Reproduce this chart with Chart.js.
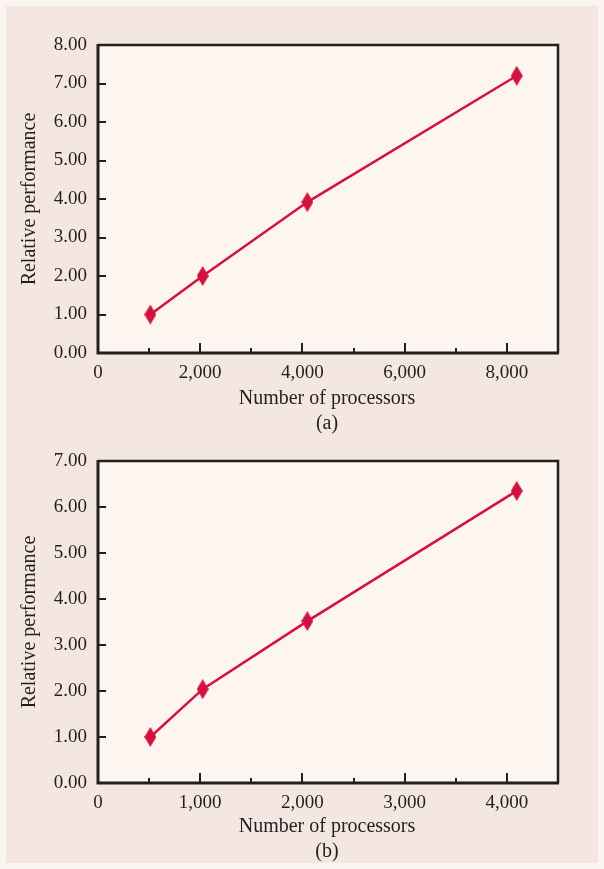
<!DOCTYPE html>
<html>
<head>
<meta charset="utf-8">
<script src="https://cdn.jsdelivr.net/npm/chart.js@4/dist/chart.umd.min.js"></script>
<style>
  html, body { margin: 0; padding: 0; background: #fbf5f2; }
  #page { position: relative; width: 604px; height: 869px; overflow: hidden; }
  #panel { position: absolute; left: 6px; top: 6px; width: 592px; height: 857px; background: #f4e6e0; }
  canvas { position: absolute; left: 0; }
</style>
</head>
<body>
<div id="page">
  <div id="panel"></div>
  <canvas id="c1" width="604" height="435" style="top:0px"></canvas>
  <canvas id="c2" width="604" height="434" style="top:435px"></canvas>
</div>
<script>
// ---- data ----
const topProcessors = [1024, 2048, 4096, 8192];
const topPerformance = [1.0, 2.0, 3.92, 7.2];
const bottomProcessors = [512, 1024, 2048, 4096];
const bottomPerformance = [1.0, 2.04, 3.52, 6.35];

const topXTicks = [0, 2000, 4000, 6000, 8000];
const topYTicks = [0, 1, 2, 3, 4, 5, 6, 7, 8];
const bottomXTicks = [0, 1000, 2000, 3000, 4000];
const bottomYTicks = [0, 1, 2, 3, 4, 5, 6, 7];

const topXMax = 9000, topXMinor = 1000;
const bottomXMax = 4500, bottomXMinor = 500;

const xTitle = 'Number of processors';
const yTitle = 'Relative performance';
const captions = ['(a)', '(b)'];

// ---- style ----
const RED = '#d2123f';
const INK = '#231f20';
const PLOT_BG = '#fdf5f0';
const FONT = '"Liberation Serif", "Times New Roman", serif';

function diamond(w, h) {
  const c = document.createElement('canvas');
  c.width = w; c.height = h;
  const g = c.getContext('2d');
  g.fillStyle = RED;
  g.beginPath();
  g.moveTo(w / 2, 0); g.lineTo(w, h / 2); g.lineTo(w / 2, h); g.lineTo(0, h / 2);
  g.closePath(); g.fill();
  return c;
}
const marker = diamond(12, 20);

function framePlugin(xMinorStep, caption, t1, t2) {
  return {
    id: 'frame',
    beforeDatasetsDraw(chart) {
      const a = chart.chartArea, ctx = chart.ctx;
      ctx.save();
      ctx.fillStyle = PLOT_BG;
      ctx.fillRect(a.left, a.top, a.right - a.left, a.bottom - a.top);
      ctx.restore();
    },
    afterDraw(chart) {
      const a = chart.chartArea, ctx = chart.ctx;
      const xs = chart.scales.x, ys = chart.scales.y;
      ctx.save();
      ctx.strokeStyle = INK;
      ctx.lineWidth = 2.5;
      ctx.beginPath();
      ctx.moveTo(a.left, a.top); ctx.lineTo(a.right, a.top); ctx.lineTo(a.right, a.bottom);
      ctx.stroke();
      ctx.lineWidth = 3;
      ctx.beginPath();
      ctx.moveTo(a.left, a.top - 1); ctx.lineTo(a.left, a.bottom); ctx.lineTo(a.right + 1, a.bottom);
      ctx.stroke();
      ctx.lineWidth = 2;
      ctx.beginPath();
      for (let v = xMinorStep; v < xs.max; v += xMinorStep) {
        const px = Math.round(xs.getPixelForValue(v));
        const major = Math.round(v / xMinorStep) % 2 === 0;
        ctx.moveTo(px, a.bottom); ctx.lineTo(px, a.bottom - (major ? 10 : 5));
      }
      for (let v = 1; v < ys.max; v += 1) {
        const py = Math.round(ys.getPixelForValue(v));
        ctx.moveTo(a.left, py); ctx.lineTo(a.left + 8, py);
      }
      ctx.stroke();
      ctx.fillStyle = INK;
      ctx.font = '20px ' + FONT;
      ctx.textAlign = 'center';
      ctx.textBaseline = 'middle';
      const cx = (a.left + a.right) / 2 - 1;
      ctx.fillText(xTitle, cx, a.bottom + t1);
      ctx.fillText(caption, cx, a.bottom + t2);
      ctx.translate(30, (a.top + a.bottom) / 2);
      ctx.rotate(-Math.PI / 2);
      ctx.fillText(yTitle, 0, 0);
      ctx.restore();
    }
  };
}

function makeChart(id, xs, ys, xMax, xTicks, yTicks, xMinor, padTop, xHeight, caption, t1, t2) {
  return new Chart(document.getElementById(id), {
    type: 'line',
    data: {
      datasets: [{
        data: xs.map((x, i) => ({ x: x, y: ys[i] })),
        borderColor: RED,
        backgroundColor: RED,
        borderWidth: 2.5,
        pointStyle: marker,
        pointRadius: 8,
        tension: 0
      }]
    },
    options: {
      responsive: false,
      animation: false,
      events: [],
      layout: { padding: { top: padTop, right: 46, left: 0, bottom: 0 } },
      plugins: { legend: { display: false }, tooltip: { enabled: false } },
      scales: {
        x: {
          type: 'linear', min: 0, max: xMax,
          grid: { display: false, drawTicks: false },
          border: { display: false },
          afterBuildTicks: s => { s.ticks = xTicks.map(v => ({ value: v })); },
          ticks: {
            autoSkip: false, maxRotation: 0, padding: 9, color: INK,
            font: { family: FONT, size: 19 },
            callback: v => Number(v).toLocaleString('en-US')
          },
          afterFit: s => { s.height = xHeight; }
        },
        y: {
          type: 'linear', min: 0, max: yTicks[yTicks.length - 1],
          grid: { display: false, drawTicks: false },
          border: { display: false },
          afterBuildTicks: s => { s.ticks = yTicks.map(v => ({ value: v })); },
          ticks: {
            autoSkip: false, padding: 11, color: INK,
            font: { family: FONT, size: 19 },
            callback: v => Number(v).toFixed(2)
          },
          afterFit: s => { s.width = 98; }
        }
      }
    },
    plugins: [framePlugin(xMinor, caption, t1, t2)]
  });
}

makeChart('c1', topProcessors, topPerformance, topXMax, topXTicks, topYTicks, topXMinor, 45, 82, captions[0], 46, 71);
makeChart('c2', bottomProcessors, bottomPerformance, bottomXMax, bottomXTicks, bottomYTicks, bottomXMinor, 26, 86, captions[1], 44, 69);
</script>
</body>
</html>
